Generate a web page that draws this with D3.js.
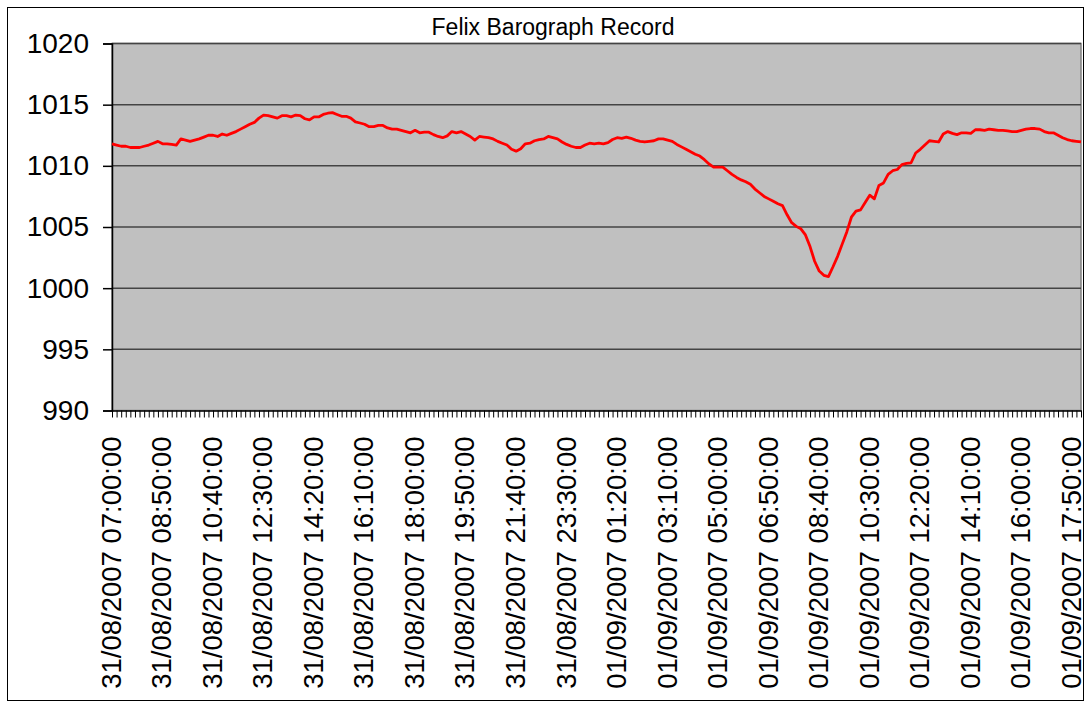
<!DOCTYPE html>
<html>
<head>
<meta charset="utf-8">
<script src="https://cdn.jsdelivr.net/npm/d3@7"></script>
<style>
  body { margin: 0; background: #fff; }
  text { font-family: "Liberation Sans", Arial, sans-serif; fill: #000; }
</style>
</head>
<body>
<div id="chart"></div>
<script>
// readings every 10 minutes, starting 31/08/2007 07:00
const startTime = new Date(2007, 7, 31, 7, 0, 0);
const stepMinutes = 10;
const labelEvery = 11;

const pressure = [
  1011.8, 1011.7, 1011.6, 1011.6, 1011.5, 1011.5, 1011.5, 1011.6, 1011.7, 1011.85,
  1012.0, 1011.8, 1011.8, 1011.75, 1011.7, 1012.2, 1012.1, 1012.0, 1012.1, 1012.2,
  1012.35, 1012.5, 1012.5, 1012.4, 1012.6, 1012.5, 1012.65, 1012.8, 1013.0, 1013.2,
  1013.4, 1013.55, 1013.9, 1014.15, 1014.1, 1014.0, 1013.9, 1014.1, 1014.1, 1014.0,
  1014.15, 1014.1, 1013.85, 1013.75, 1014.0, 1014.0, 1014.2, 1014.3, 1014.35, 1014.2,
  1014.05, 1014.05, 1013.9, 1013.6, 1013.5, 1013.4, 1013.2, 1013.2, 1013.3, 1013.3,
  1013.1, 1013.0, 1013.0, 1012.9, 1012.8, 1012.7, 1012.9, 1012.7, 1012.75, 1012.75,
  1012.55, 1012.4, 1012.3, 1012.45, 1012.8, 1012.7, 1012.8, 1012.6, 1012.4, 1012.1,
  1012.4, 1012.35, 1012.3, 1012.2, 1012.0, 1011.85, 1011.7, 1011.35, 1011.2, 1011.4,
  1011.8, 1011.85, 1012.05, 1012.15, 1012.2, 1012.4, 1012.3, 1012.2, 1011.95, 1011.75,
  1011.6, 1011.5, 1011.5, 1011.7, 1011.85, 1011.8, 1011.85, 1011.8, 1011.9, 1012.15,
  1012.3, 1012.25, 1012.35, 1012.25, 1012.1, 1012.0, 1011.95, 1012.0, 1012.05, 1012.2,
  1012.2, 1012.1, 1012.0, 1011.75, 1011.55, 1011.35, 1011.15, 1010.95, 1010.8, 1010.5,
  1010.15, 1009.9, 1009.9, 1009.9, 1009.6, 1009.3, 1009.05, 1008.85, 1008.7, 1008.5,
  1008.1, 1007.8, 1007.5, 1007.3, 1007.1, 1006.9, 1006.75, 1006.0, 1005.35, 1005.05,
  1004.85, 1004.35, 1003.4, 1002.2, 1001.4, 1001.05, 1000.95, 1001.75, 1002.6, 1003.6,
  1004.6, 1005.8, 1006.3, 1006.4, 1007.0, 1007.6, 1007.3, 1008.4, 1008.6, 1009.3,
  1009.6, 1009.7, 1010.1, 1010.2, 1010.25, 1011.05, 1011.35, 1011.7, 1012.05, 1012.0,
  1011.95, 1012.6, 1012.8, 1012.65, 1012.55, 1012.7, 1012.7, 1012.65, 1012.95, 1012.95,
  1012.9, 1013.0, 1012.95, 1012.9, 1012.9, 1012.85, 1012.8, 1012.8, 1012.9, 1013.0,
  1013.05, 1013.05, 1013.0, 1012.8, 1012.7, 1012.7, 1012.5, 1012.3, 1012.15, 1012.05,
  1012.0, 1011.95
];

const yTicks = [990, 995, 1000, 1005, 1010, 1015, 1020];
const title = "Felix Barograph Record";

const fmt = d3.timeFormat("%d/%m/%Y %H:%M:%S");
const categories = pressure.map(function(d, i) {
    return fmt(d3.timeMinute.offset(startTime, i * stepMinutes));
});

const width = 1086, height = 704;
const plot = {left: 112, right: 1081, top: 43.5, bottom: 410.5};

const svg = d3.select("#chart").append("svg")
    .attr("width", width)
    .attr("height", height);

// outer chart frame
svg.append("rect")
    .attr("x", 7.5).attr("y", 7.5)
    .attr("width", 1076).attr("height", 693)
    .attr("fill", "#fff")
    .attr("stroke", "#000")
    .attr("stroke-width", 1);

const x = d3.scalePoint()
    .domain(categories)
    .range([plot.left, plot.right]);

const y = d3.scaleLinear()
    .domain([990, 1020])
    .range([plot.bottom, plot.top]);

// plot area background
svg.append("rect")
    .attr("x", plot.left).attr("y", plot.top)
    .attr("width", plot.right - plot.left)
    .attr("height", plot.bottom - plot.top)
    .attr("fill", "#c0c0c0")
    .attr("stroke", "#808080")
    .attr("stroke-width", 1.5);

// horizontal gridlines
svg.append("g")
    .selectAll("line")
    .data(yTicks.filter(function(d) { return d > 990; }))
    .enter()
    .append("line")
    .attr("x1", plot.left).attr("x2", plot.right)
    .attr("y1", function(d) { return y(d); })
    .attr("y2", function(d) { return y(d); })
    .attr("stroke", "#444")
    .attr("stroke-width", 1.5);

// y axis
const yAxis = svg.append("g")
    .attr("transform", "translate(" + plot.left + ",0)")
    .call(d3.axisLeft(y).tickValues(yTicks).tickSize(9).tickPadding(14).tickFormat(d3.format("d")));
yAxis.select(".domain").attr("stroke", "#000").attr("stroke-width", 1.5);
yAxis.selectAll(".tick line").attr("stroke", "#000").attr("stroke-width", 1.5);
yAxis.selectAll("text")
    .style("font-size", "28px")
    .style("font-family", "'Liberation Sans', Arial, sans-serif")
    .attr("fill", "#000");

// x axis, a tick for every reading and a label every 11th
const xAxis = svg.append("g")
    .attr("transform", "translate(0," + plot.bottom + ")")
    .call(d3.axisBottom(x)
        .tickSize(7)
        .tickSizeOuter(0)
        .tickFormat(function(d, i) { return i % labelEvery === 0 ? d : ""; }));
xAxis.select(".domain").attr("stroke", "#000").attr("stroke-width", 1.5);
xAxis.selectAll(".tick line").attr("stroke", "#000").attr("stroke-width", 1);
xAxis.selectAll("text")
    .style("font-size", "27.5px")
    .style("font-family", "'Liberation Sans', Arial, sans-serif")
    .attr("fill", "#000")
    .attr("text-anchor", "end")
    .attr("transform", "translate(-1,26) rotate(-90)")
    .attr("x", 0)
    .attr("y", 0)
    .attr("dy", "0.34em");

// pressure line
const line = d3.line()
    .x(function(d, i) { return x(categories[i]); })
    .y(function(d) { return y(d); });

svg.append("path")
    .datum(pressure)
    .attr("d", line)
    .attr("fill", "none")
    .attr("stroke", "#ff0000")
    .attr("stroke-width", 2.8)
    .attr("stroke-linejoin", "round");

svg.append("text")
    .attr("x", 553)
    .attr("y", 35)
    .attr("text-anchor", "middle")
    .style("font-size", "23px")
    .text(title);
</script>
</body>
</html>
